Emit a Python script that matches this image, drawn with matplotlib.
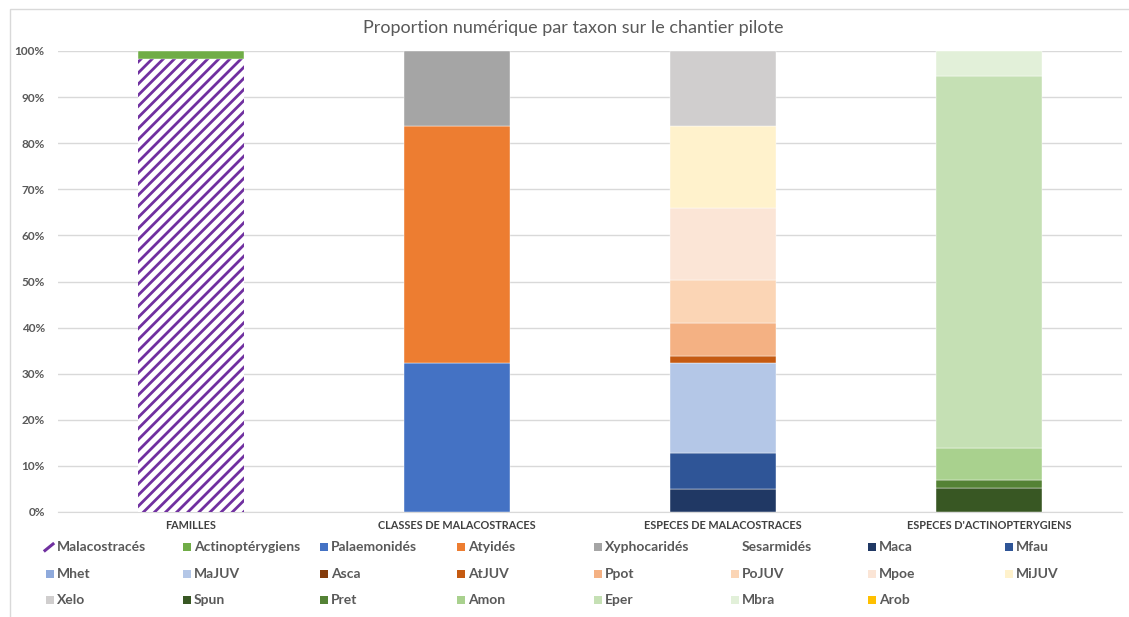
import matplotlib
matplotlib.use("Agg")
import matplotlib.pyplot as plt
from matplotlib.patches import Rectangle
from matplotlib.lines import Line2D

# percentages per group (read from field counts)
categories = ["FAMILLES", "CLASSES DE MALACOSTRACES",
              "ESPECES DE MALACOSTRACES", "ESPECES D'ACTINOPTERYGIENS"]

famille_taxa = ["Malacostracés", "Actinoptérygiens"]
famille_pct = [98.2, 1.8]

classe_taxa = ["Palaemonidés", "Atyidés", "Xyphocaridés", "Sesarmidés"]
classe_pct = [32.3, 51.4, 16.3, 0.0]

malaco_taxa = ["Maca", "Mfau", "Mhet", "MaJUV", "Asca", "AtJUV",
               "Ppot", "PoJUV", "Mpoe", "MiJUV", "Xelo"]
malaco_pct = [5.0, 7.9, 0.0, 19.5, 0.0, 1.4, 7.1, 9.4, 15.7, 17.8, 16.2]

actino_taxa = ["Spun", "Pret", "Amon", "Eper", "Mbra", "Arob"]
actino_pct = [5.1, 1.8, 7.0, 80.7, 5.4, 0.0]

colors = {
    "Malacostracés": "#7030A0", "Actinoptérygiens": "#70AD47",
    "Palaemonidés": "#4472C4", "Atyidés": "#ED7D31", "Xyphocaridés": "#A5A5A5",
    "Sesarmidés": None,
    "Maca": "#203864", "Mfau": "#2F5597", "Mhet": "#8FAADC", "MaJUV": "#B4C7E7",
    "Asca": "#843C0C", "AtJUV": "#C55A11", "Ppot": "#F4B183", "PoJUV": "#FBD5B5",
    "Mpoe": "#FBE5D6", "MiJUV": "#FFF2CC", "Xelo": "#D0CECE",
    "Spun": "#385723", "Pret": "#548235", "Amon": "#A9D18E", "Eper": "#C5E0B4",
    "Mbra": "#E2F0D9", "Arob": "#FFC000",
}

W, H = 1129, 617
plt.rcParams["font.family"] = ["Lato", "DejaVu Sans"]
plt.rcParams["hatch.linewidth"] = 2.0
txt_color = "#595959"
grid_color = "#D9D9D9"

fig = plt.figure(figsize=(W / 100, H / 100), dpi=100)


def fx(x):
    return x / W


def fy(y):
    return 1 - y / H


# chart frame
fig.patches.append(Rectangle((fx(10), -0.1), 1.2, fy(9) + 0.1, transform=fig.transFigure,
                             facecolor="none", edgecolor=grid_color, linewidth=1))

ax = fig.add_axes([fx(58), fy(512), fx(1122) - fx(58), fy(51) - fy(512)])

groups = [(famille_taxa, famille_pct), (classe_taxa, classe_pct),
          (malaco_taxa, malaco_pct), (actino_taxa, actino_pct)]
for gi, (taxa, pct) in enumerate(groups):
    bottom = 0
    for name, v in zip(taxa, pct):
        if v <= 0:
            continue
        if name == "Malacostracés":
            ax.bar(gi, v, 0.402, bottom=bottom, facecolor="white",
                   edgecolor=colors[name], hatch="///", linewidth=0, zorder=3)
        else:
            ax.bar(gi, v, 0.402, bottom=bottom, color=colors[name],
                   edgecolor="white", linewidth=0.3, zorder=3)
        bottom += v

ax.set_xlim(-0.5, 3.5)
ax.set_ylim(0, 100)
ax.yaxis.grid(True, color=grid_color, linewidth=1, zorder=0)
ax.set_axisbelow(True)
for s in ["top", "right", "left"]:
    ax.spines[s].set_visible(False)
ax.spines["bottom"].set_color(grid_color)
ax.tick_params(axis="both", length=0)
ax.tick_params(axis="y", pad=9.5)
ax.tick_params(axis="x", pad=6)
ax.set_yticks(range(0, 101, 10))
ax.set_yticklabels([f"{t}%" for t in range(0, 101, 10)], fontsize=8.5,
                   fontweight="bold", color=txt_color)
ax.set_xticks(range(len(categories)))
ax.set_xticklabels(categories, fontsize=7.8, fontweight="bold", color="#404040")

fig.text(fx(573), fy(28), "Proportion numérique par taxon sur le chantier pilote",
         ha="center", va="center", fontsize=13, color=txt_color)

# legend laid out on an even grid, 8 entries per row
legend_taxa = famille_taxa + classe_taxa + malaco_taxa + actino_taxa
for i, name in enumerate(legend_taxa):
    row, col = divmod(i, 8)
    tx = 57 + col * 137
    ty = 547 + row * 26.5
    fig.text(fx(tx), fy(ty), name, ha="left", va="center", fontsize=10,
             fontweight="bold", color=txt_color)
    c = colors[name]
    if c is None:
        continue
    if name == "Malacostracés":
        fig.add_artist(Line2D([fx(45), fx(53)], [fy(ty + 3.5), fy(ty - 3)],
                              color=c, linewidth=2.2, transform=fig.transFigure))
    else:
        fig.patches.append(Rectangle((fx(tx - 11), fy(ty + 4)), fx(8), 8 / H,
                                     transform=fig.transFigure, facecolor=c,
                                     edgecolor="none"))

fig.savefig("out.png", dpi=100)
